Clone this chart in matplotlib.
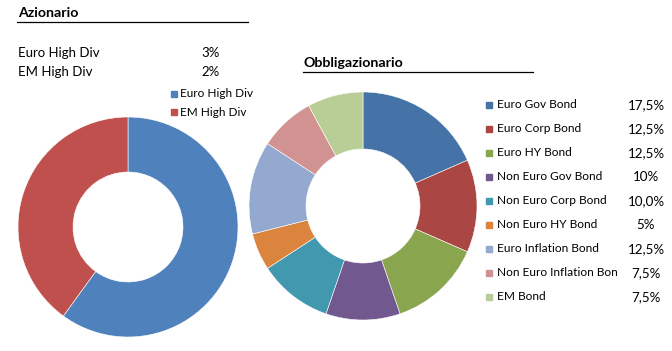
import matplotlib.pyplot as plt
from matplotlib.patches import Rectangle

# Azionario
eq_labels = ['Euro High Div', 'EM High Div']
eq_values = [3, 2]
eq_text = ['3%', '2%']
eq_colors = ['#4F81BD', '#C0504D']

# Obbligazionario
bond_labels = ['Euro Gov Bond', 'Euro Corp Bond', 'Euro HY Bond', 'Non Euro Gov Bond',
               'Non Euro Corp Bond', 'Non Euro HY Bond', 'Euro Inflation Bond',
               'Non Euro Inflation Bon', 'EM Bond']
bond_values = [17.5, 12.5, 12.5, 10, 10.0, 5, 12.5, 7.5, 7.5]
bond_text = ['17,5%', '12,5%', '12,5%', '10%', '10,0%', '5%', '12,5%', '7,5%', '7,5%']
bond_colors = ['#4572A7', '#AA4643', '#89A54E', '#71588F', '#4198AF',
               '#DB843D', '#93A9CF', '#D19392', '#B9CD96']

plt.rcParams['font.family'] = ['Lato', 'DejaVu Sans']

W, H = 672, 351
fig = plt.figure(figsize=(W / 100, H / 100), dpi=100)


def donut(cx, cy, r, values, colors):
    ax = fig.add_axes([(cx - r) / W, (H - cy - r) / H, 2 * r / W, 2 * r / H])
    ax.pie(values, colors=colors, startangle=90, counterclock=False,
           wedgeprops=dict(width=0.5, edgecolor='white', linewidth=0.4))
    ax.set_aspect('equal')
    ax.set_xlim(-1, 1)
    ax.set_ylim(-1, 1)
    ax.axis('off')


donut(128, 227, 110, eq_values, eq_colors)
donut(363, 206, 114, bond_values, bond_colors)

# overlay in pixel coordinates for text
ov = fig.add_axes([0, 0, 1, 1])
ov.set_xlim(0, W)
ov.set_ylim(H, 0)
ov.axis('off')

ov.text(18, 13, 'Azionario', fontsize=10.2, fontweight='bold', va='center')
ov.plot([17, 248], [22, 22], color='black', lw=0.9)
for i, (lab, t) in enumerate(zip(eq_labels, eq_text)):
    y = 53 + i * 19.5
    ov.text(18, y, lab, fontsize=9.5, va='center')
    ov.text(211, y, t, fontsize=9.5, va='center', ha='center')
for i, (lab, c) in enumerate(zip(eq_labels, eq_colors)):
    y = 93.5 + i * 18.5
    ov.add_patch(Rectangle((171, y - 3), 6, 6, color=c))
    ov.text(180, y, lab, fontsize=8.5, va='center')

ov.text(303, 63, 'Obbligazionario', fontsize=10.2, fontweight='bold', va='center')
ov.plot([303, 533], [72, 72], color='black', lw=0.9)
for i, (lab, t, c) in enumerate(zip(bond_labels, bond_text, bond_colors)):
    y = 105 + i * 24
    ov.add_patch(Rectangle((486, y - 3), 6, 6, color=c))
    ov.text(497, y, lab, fontsize=8.6, va='center')
    ov.text(646, y, t, fontsize=9.6, va='center', ha='center')

fig.savefig('out.png', dpi=100)
